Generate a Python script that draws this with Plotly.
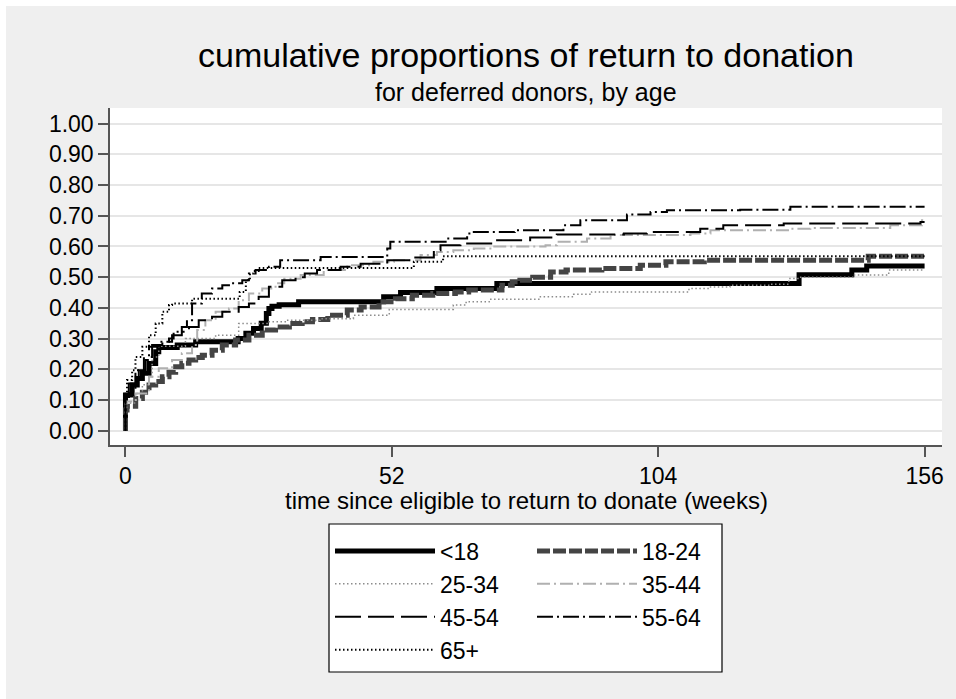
import plotly.graph_objects as go

# ---------------- data (weeks, cumulative proportion) ----------------
labels = ["<18", "18-24", "25-34", "35-44", "45-54", "55-64", "65+"]

t_lt18 = [0, 0, 1.3, 2.3, 3.3, 4.6, 5.9, 6.5, 10.1, 13.7, 22.0, 23.5, 25.0, 26.5, 27.5, 28.0, 28.6, 30.0, 33.8, 50.4, 53.7, 60.8, 72.5, 131.5, 141.8, 144.7, 156]
v_lt18 = [0, 0.116, 0.149, 0.170, 0.187, 0.219, 0.257, 0.271, 0.279, 0.290, 0.300, 0.317, 0.333, 0.350, 0.382, 0.398, 0.405, 0.410, 0.420, 0.436, 0.450, 0.463, 0.479, 0.508, 0.523, 0.536, 0.536]

t_1824 = [0, 0, 0.3, 2.0, 3.3, 4.6, 5.9, 7.2, 8.5, 9.8, 11.0, 12.4, 13.7, 15.0, 16.9, 18.9, 21.5, 24.1, 26.7, 29.3, 32.0, 34.5, 36.5, 39.5, 43.3, 46.0, 49.5, 52.7, 56.0, 60.0, 64.4, 67.0, 73.5, 75.5, 77.0, 79.5, 83.0, 86.0, 93.0, 100.5, 105.5, 113.0, 145.0, 156]
v_1824 = [0, 0.067, 0.080, 0.105, 0.125, 0.149, 0.160, 0.176, 0.190, 0.208, 0.220, 0.230, 0.238, 0.246, 0.262, 0.279, 0.295, 0.311, 0.328, 0.338, 0.349, 0.355, 0.362, 0.376, 0.393, 0.403, 0.420, 0.430, 0.441, 0.447, 0.452, 0.458, 0.474, 0.485, 0.490, 0.500, 0.517, 0.523, 0.528, 0.539, 0.550, 0.555, 0.568, 0.568]

t_2534 = [0, 0, 0.3, 2.0, 3.3, 4.6, 5.2, 6.5, 11.7, 17.6, 22.1, 27.9, 31.2, 38.0, 44.5, 51.5, 64.0, 66.5, 71.0, 81.0, 87.5, 91.0, 110.0, 114.0, 118.0, 126.0, 129.5, 131.5, 142.0, 149.0, 156]
v_2534 = [0, 0.078, 0.090, 0.121, 0.150, 0.176, 0.240, 0.275, 0.300, 0.311, 0.349, 0.355, 0.360, 0.365, 0.376, 0.395, 0.409, 0.420, 0.428, 0.436, 0.444, 0.452, 0.463, 0.468, 0.474, 0.477, 0.496, 0.500, 0.507, 0.523, 0.523]

t_3544 = [0, 0, 0.3, 2.0, 4.6, 6.5, 9.1, 11.0, 13.0, 14.0, 15.6, 17.6, 20.2, 22.1, 24.1, 26.7, 29.3, 31.0, 34.2, 38.7, 43.3, 48.4, 52.4, 57.6, 60.8, 64.0, 68.0, 72.0, 82.0, 84.2, 90.1, 94.7, 110.3, 114.2, 129.8, 133.7, 149.3, 155.5, 156]
v_3544 = [0, 0.089, 0.095, 0.121, 0.176, 0.203, 0.230, 0.252, 0.279, 0.328, 0.360, 0.387, 0.398, 0.425, 0.447, 0.463, 0.480, 0.495, 0.507, 0.523, 0.539, 0.550, 0.555, 0.572, 0.582, 0.588, 0.593, 0.600, 0.604, 0.615, 0.626, 0.637, 0.642, 0.653, 0.658, 0.660, 0.669, 0.685, 0.685]

t_4554 = [0, 0, 0.65, 2.6, 3.6, 5.2, 7.2, 9.1, 11.0, 12.4, 14.3, 16.9, 18.9, 22.1, 24.1, 26.0, 28.0, 30.6, 33.2, 35.0, 37.4, 42.0, 45.9, 51.1, 56.2, 60.2, 61.5, 65.4, 71.9, 79.0, 84.2, 97.3, 101.8, 112.2, 116.7, 128.5, 155.2, 156]
v_4554 = [0, 0.110, 0.154, 0.197, 0.240, 0.279, 0.290, 0.311, 0.322, 0.338, 0.360, 0.371, 0.387, 0.403, 0.414, 0.436, 0.469, 0.490, 0.500, 0.512, 0.523, 0.534, 0.544, 0.555, 0.564, 0.588, 0.604, 0.610, 0.620, 0.629, 0.639, 0.642, 0.647, 0.658, 0.669, 0.675, 0.680, 0.680]

t_5564 = [0, 0, 0.65, 1.95, 3.9, 4.6, 6.5, 8.5, 9.4, 11.0, 12.0, 13.0, 14.9, 16.9, 18.9, 20.8, 22.8, 24.1, 25.4, 28.0, 30.2, 38.1, 51.1, 51.7, 62.8, 66.7, 68.0, 76.0, 85.5, 88.8, 97.9, 102.5, 105.7, 120.0, 129.8, 156]
v_5564 = [0, 0.110, 0.132, 0.197, 0.230, 0.273, 0.290, 0.300, 0.322, 0.338, 0.360, 0.414, 0.447, 0.463, 0.474, 0.480, 0.490, 0.512, 0.523, 0.534, 0.555, 0.566, 0.593, 0.615, 0.626, 0.642, 0.647, 0.653, 0.669, 0.685, 0.704, 0.712, 0.718, 0.720, 0.729, 0.729]

t_65p = [0, 0, 0.3, 1.3, 1.95, 3.3, 4.6, 5.9, 7.2, 8.5, 9.1, 13.0, 22.3, 23.5, 24.3, 25.0, 26.0, 56.3, 62.0, 156]
v_65p = [0, 0.120, 0.165, 0.197, 0.240, 0.273, 0.311, 0.349, 0.387, 0.409, 0.414, 0.430, 0.452, 0.490, 0.512, 0.520, 0.530, 0.550, 0.568, 0.568]

x_ticks = [0, 52, 104, 156]
y_ticks = [0.0, 0.1, 0.2, 0.3, 0.4, 0.5, 0.6, 0.7, 0.8, 0.9, 1.0]

title_text = "cumulative proportions of return to donation"
subtitle_text = "for deferred donors, by age"
xtitle_text = "time since eligible to return to donate (weeks)"

# ---------------- styles ----------------
FONT = "Liberation Sans, Arial, sans-serif"
series = [
    (t_lt18, v_lt18, dict(color="#000000", width=5, dash="solid"), "legend"),
    (t_1824, v_1824, dict(color="#444444", width=5, dash="13px,3px"), "legend2"),
    (t_2534, v_2534, dict(color="#8c8c8c", width=1.5, dash="1.5px,2.5px"), "legend"),
    (t_3544, v_3544, dict(color="#b0b0b0", width=2, dash="13px,4px,2px,4px"), "legend2"),
    (t_4554, v_4554, dict(color="#000000", width=2, dash="26px,7px"), "legend"),
    (t_5564, v_5564, dict(color="#000000", width=2, dash="16px,4px,2px,4px"), "legend2"),
    (t_65p, v_65p, dict(color="#000000", width=2, dash="1.5px,2.5px"), "legend"),
]

fig = go.Figure()
for (t, v, ln, lg), name in zip(series, labels):
    fig.add_trace(go.Scatter(x=t, y=v, mode="lines", name=name, line=dict(shape="hv", **ln),
                             legend=lg, hoverinfo="skip"))

# plot area in pixels: x 110..942, y 108..445
L, R, T, B = 110, 942, 108, 445
W, H = 956, 699
def px(xp):
    return (xp - L) / (R - L)
def py(yp):
    return (B - yp) / (B - T)

axis_col = "#555555"
legend_common = dict(xanchor="left", yanchor="top", orientation="v",
                     bgcolor="rgba(0,0,0,0)", borderwidth=0, itemwidth=100,
                     font=dict(size=23, family=FONT), tracegroupgap=0)
fig.update_layout(
    width=W, height=H,
    margin=dict(l=L, r=W - R, t=T, b=H - B, pad=0),
    paper_bgcolor="#efefef",
    plot_bgcolor="#ffffff",
    font=dict(family=FONT, size=23, color="#000000"),
    xaxis=dict(range=[-3.02, 159.4], tickvals=x_ticks, ticktext=[str(v) for v in x_ticks],
               showgrid=False, zeroline=False, showline=True, linecolor=axis_col, linewidth=1.5,
               ticks="outside", ticklen=10, tickwidth=1.5, tickcolor=axis_col,
               tickfont=dict(size=23, family=FONT, color="#000")),
    yaxis=dict(range=[-0.0466, 1.051], tickvals=y_ticks, tickformat=".2f",
               showgrid=True, gridcolor="#e6e6e6", gridwidth=2, zeroline=False,
               showline=True, linecolor=axis_col, linewidth=1.5,
               ticks="outside", ticklen=10, tickwidth=1.5, tickcolor=axis_col,
               tickfont=dict(size=23, family=FONT, color="#000")),
    legend=dict(x=px(330), y=py(529.5), **legend_common),
    legend2=dict(x=px(532), y=py(529.5), **legend_common),
    showlegend=True,
    shapes=[
        dict(type="rect", xref="paper", yref="paper", x0=-0.3, x1=1.2, y0=py(6), y1=py(-10),
             fillcolor="#ffffff", line=dict(width=0), layer="below"),
        dict(type="rect", xref="paper", yref="paper", x0=px(-10), x1=px(6), y0=py(710), y1=py(-10),
             fillcolor="#ffffff", line=dict(width=0), layer="below"),
        dict(type="rect", xref="paper", yref="paper", x0=px(329), x1=px(722), y0=py(672), y1=py(524),
             fillcolor="#ffffff", line=dict(width=1.2, color="#000000"), layer="below"),
    ],
    annotations=[
        dict(text=title_text, x=0.5, y=py(55), xref="paper", yref="paper", showarrow=False,
             xanchor="center", yanchor="middle", font=dict(size=34, family=FONT)),
        dict(text=subtitle_text, x=0.5, y=py(92), xref="paper", yref="paper", showarrow=False,
             xanchor="center", yanchor="middle", font=dict(size=25, family=FONT)),
        dict(text=xtitle_text, x=0.5, y=py(500), xref="paper", yref="paper", showarrow=False,
             xanchor="center", yanchor="middle", font=dict(size=24, family=FONT)),
    ],
)

fig.write_html("out.html")
